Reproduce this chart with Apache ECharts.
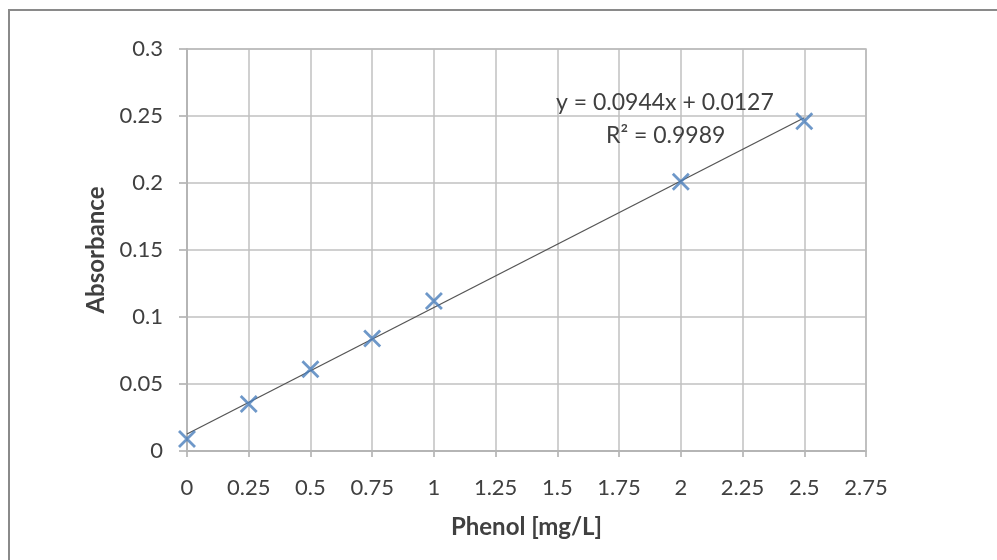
<!DOCTYPE html>
<html>
<head>
<meta charset="utf-8">
<script src="https://cdn.jsdelivr.net/npm/echarts@6/dist/echarts.min.js"></script>
<style>
  html, body { margin: 0; padding: 0; background: #fff; }
  #main { width: 997px; height: 560px; }
</style>
</head>
<body>
<div id="main"></div>
<script>
// phenol calibration data
var phenol = [0, 0.25, 0.5, 0.75, 1, 2, 2.5];
var absorbance = [0.009, 0.035, 0.061, 0.084, 0.112, 0.201, 0.246];
// linear trendline shown on the chart
var slope = 0.0944;
var intercept = 0.0127;
var trendX = [0, 2.5];

var points = phenol.map(function (x, i) { return [x, absorbance[i]]; });
var trend = trendX.map(function (x) { return [x, slope * x + intercept]; });

var cross = 'path://M0,0 L10,10 M10,0 L0,10';
var font = 'Lato, "Open Sans", sans-serif';

var myChart = echarts.init(document.getElementById('main'));

myChart.setOption({
    animation: false,
    grid: { left: 187, right: 131, top: 49, bottom: 109 },
    xAxis: {
        type: 'value',
        min: 0, max: 2.75, interval: 0.25,
        name: 'Phenol [mg/L]',
        nameLocation: 'middle',
        nameGap: 64,
        nameTextStyle: { fontFamily: font, fontWeight: 'bold', fontSize: 24, color: '#404040' },
        axisLine: { show: true, lineStyle: { color: '#999', width: 1.5 } },
        axisTick: { show: true, length: 6, lineStyle: { color: '#aaa', width: 1.5 } },
        axisLabel: { fontFamily: font, fontSize: 22, color: '#404040', margin: 26 },
        splitLine: { show: true, lineStyle: { color: '#c0c0c0', width: 1.5 } }
    },
    yAxis: {
        type: 'value',
        min: 0, max: 0.3, interval: 0.05,
        name: 'Absorbance',
        nameLocation: 'middle',
        nameGap: 79,
        nameTextStyle: { fontFamily: font, fontWeight: 'bold', fontSize: 24, color: '#404040' },
        axisLine: { show: true, lineStyle: { color: '#999', width: 1.5 } },
        axisTick: { show: true, length: 8, lineStyle: { color: '#aaa', width: 1.5 } },
        axisLabel: { fontFamily: font, fontSize: 22, color: '#404040', margin: 24 },
        splitLine: { show: true, lineStyle: { color: '#c0c0c0', width: 1.5 } }
    },
    graphic: [
        {
            type: 'rect',
            shape: { x: 9, y: 10, width: 1000, height: 600 },
            style: { fill: 'none', stroke: '#8a8a8a', lineWidth: 2 },
            silent: true
        },
        {
            type: 'rect',
            shape: { x: 187, y: 49, width: 679, height: 402 },
            style: { fill: 'none', stroke: '#bbb', lineWidth: 1.5 },
            silent: true, z: 1
        },
        {
            type: 'text',
            left: 556, top: 91,
            style: { text: 'y = 0.0944x + 0.0127', font: '23px ' + font, fill: '#404040' },
            z: 10
        },
        {
            type: 'text',
            left: 606, top: 124,
            style: { text: 'R² = 0.9989', font: '23px ' + font, fill: '#404040' },
            z: 10
        }
    ],
    series: [
        {
            type: 'line',
            data: trend,
            symbol: 'none',
            lineStyle: { color: '#555', width: 1.3 },
            z: 3
        },
        {
            type: 'scatter',
            data: points,
            symbol: cross,
            symbolSize: 16,
            itemStyle: { color: 'none', borderColor: '#4a7ebb', borderWidth: 2.8 },
            z: 4
        }
    ]
});
</script>
</body>
</html>
